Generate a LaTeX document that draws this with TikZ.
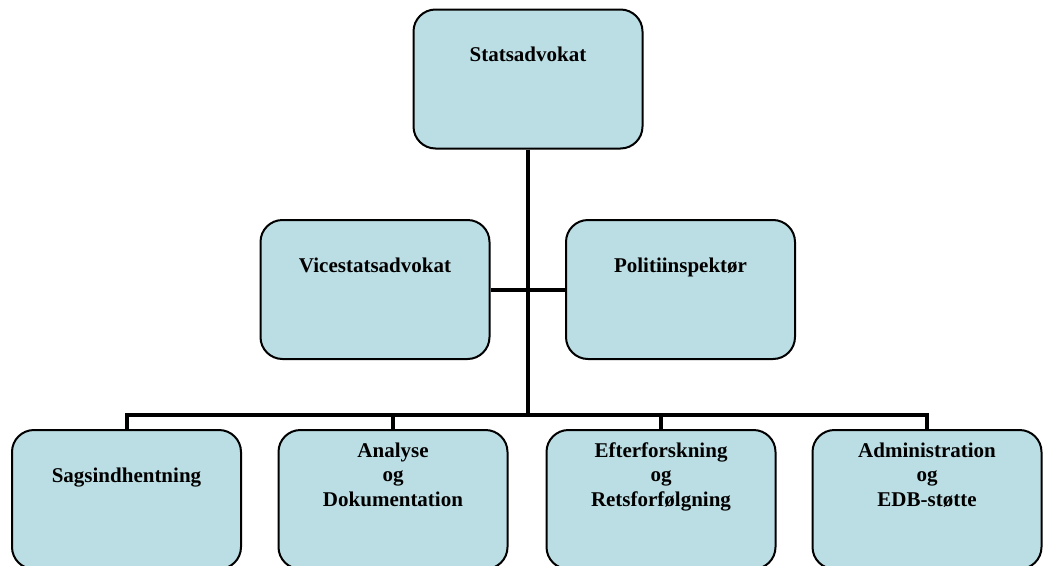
\documentclass[tikz,border=0pt]{standalone}
\usepackage{fontspec}
\setmainfont{Liberation Serif}
\usepackage{xcolor}
\usetikzlibrary{positioning}
\definecolor{boxblue}{RGB}{187,222,228}
\tikzset{
  orgbox/.style={draw=black, line width=2pt, fill=boxblue, rounded corners=22pt,
    minimum width=229pt, minimum height=139pt, inner sep=0pt},
  orgtext/.style={font=\fontsize{21}{24.5}\selectfont\bfseries, align=center, inner sep=0pt, anchor=base},
  conn/.style={line width=4pt, line join=miter}
}

\begin{document}
\begin{tikzpicture}[x=1pt,y=-1pt]
\useasboundingbox (0,0) rectangle (1044,565);
\clip (0,0) rectangle (1044,565);

\node[orgbox] (stat) at (528,79) {};
\node[orgbox] (vice) at (375,289.5) {};
\node[orgbox] (pol) at (680.5,289.5) {};
\node[orgbox] (sags) at (126.5,499.5) {};
\node[orgbox] (ana) at (393,499.5) {};
\node[orgbox] (efter) at (661,499.5) {};
\node[orgbox] (adm) at (927,499.5) {};
\coordinate (bus) at (528,415);

\node[orgtext] (stat-t) at ([yshift=-53pt]stat.north) {Statsadvokat};
\node[orgtext] (vice-t) at ([yshift=-53pt]vice.north) {Vicestatsadvokat};
\node[orgtext] (pol-t) at ([yshift=-53pt]pol.north) {Politiinspektør};
\node[orgtext] (sags-t) at ([yshift=-53pt]sags.north) {Sagsindhentning};
\node[orgtext] (ana-t) at ([yshift=-77pt]ana.north) {Analyse\\og\\Dokumentation};
\node[orgtext] (efter-t) at ([yshift=-77pt]efter.north) {Efterforskning\\og\\Retsforfølgning};
\node[orgtext] (adm-t) at ([yshift=-77pt]adm.north) {Administration\\og\\EDB-støtte};

\draw[conn] (stat.south) -- (bus);
\draw[conn] (vice.east) -- (pol.west);
\draw[conn] (sags.north) -- (sags.north |- bus) -- (adm.north |- bus) -- (adm.north);
\draw[conn] (ana.north) -- (ana.north |- bus);
\draw[conn] (efter.north) -- (efter.north |- bus);
\end{tikzpicture}
\end{document}
